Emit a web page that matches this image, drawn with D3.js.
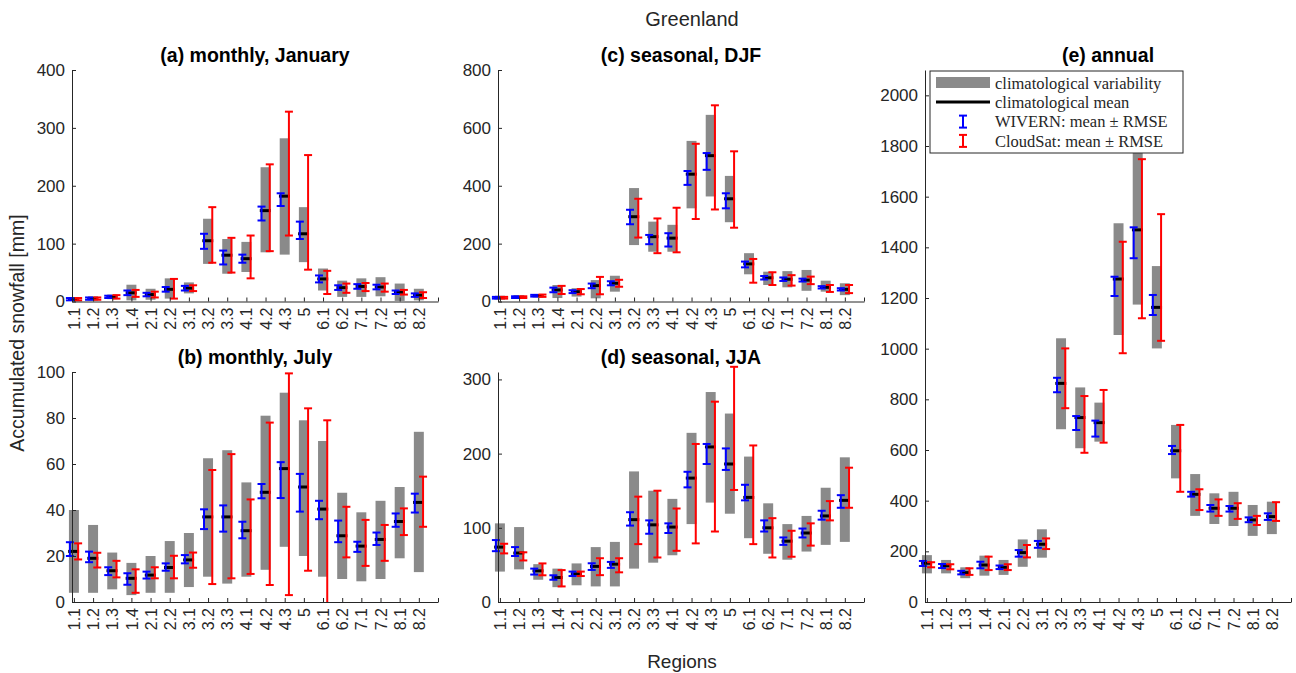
<!DOCTYPE html>
<html>
<head>
<meta charset="utf-8">
<script src="https://cdn.jsdelivr.net/npm/d3@7"></script>
<style>
  body { margin: 0; background: #fff; }
  svg text { font-family: "Liberation Sans", Arial, sans-serif; fill: #262626; }
</style>
</head>
<body>
<div id="root"></div>
<script>
const cats = ["1.1", "1.2", "1.3", "1.4", "2.1", "2.2", "3.1", "3.2", "3.3", "4.1",
  "4.2", "4.3", "5", "6.1", "6.2", "7.1", "7.2", "8.1", "8.2"];

// (a) monthly, January
const janLo = [1, 2, 4, 2, 3, 5, 14, 65, 48, 51, 85, 81, 68, 19, 8, 8, 9, 1, 2];
const janHi = [7, 9, 12, 29, 22, 40, 33, 143, 108, 103, 232, 282, 163, 57, 36, 40, 42, 31, 22];
const janMean = [4, 5, 8, 15, 12, 21, 23, 105, 80, 74, 157, 182, 117, 39, 24, 26, 25, 16, 11];
const janWiv = [4, 5, 8, 15, 12, 21, 23, 104, 76, 74, 152, 176, 123, 39, 24, 26, 25, 16, 11];
const janWivErr = [2, 2, 2, 4, 3, 4, 4, 13, 12, 7, 12, 11, 15, 6, 4, 4, 4, 3, 3];
const janCs = [4, 5, 8, 14, 12, 22, 23, 115, 80, 77, 162, 221, 154, 33, 23, 25, 24, 16, 11];
const janCsErr = [2, 2, 3, 6, 5, 17, 5, 48, 30, 37, 75, 107, 99, 20, 8, 7, 7, 4, 5];

// (b) monthly, July
const julLo = [4, 4, 5.5, 3, 4, 4, 6.5, 11, 8, 11, 14, 24, 20, 11, 10, 9, 10, 19, 13];
const julHi = [40, 33.5, 21.5, 17, 20, 26.5, 30, 62.5, 66, 52, 81, 91, 79, 70, 47.5, 39, 44, 50, 74];
const julMean = [22, 19, 13.6, 10.3, 11.7, 15, 18.3, 37, 37, 31, 47.7, 58, 50, 40.4, 28.8, 24.3, 27.2, 35, 43.3];
const julWiv = [23, 19.6, 13.4, 10, 11.7, 15.2, 18.6, 36, 36.3, 31.3, 48.2, 53, 47.5, 40, 30.7, 24, 27.5, 35.6, 43];
const julWivErr = [3, 2.3, 1.7, 2.5, 1.5, 1.6, 1.8, 4.3, 5.7, 3.6, 3.1, 7.8, 8.2, 4, 4.7, 2.2, 2.7, 2.9, 4.1];
const julCs = [22, 18.2, 14.3, 9.1, 12.7, 15.2, 18.2, 32.6, 37.3, 28.4, 42.7, 51.2, 48.9, 39.5, 30.4, 25.7, 25.7, 34.9, 43.6];
const julCsErr = [3.5, 3.2, 3.6, 5.1, 2.4, 4.9, 3.3, 24.8, 27, 16.2, 35.3, 48.2, 35.3, 39.5, 11, 10, 7.8, 5.8, 10.9];

// (c) seasonal, DJF
const djfLo = [8, 10, 15, 12, 17, 11, 34, 195, 172, 172, 322, 363, 274, 94, 57, 49, 37, 34, 22];
const djfHi = [20, 20, 26, 57, 46, 74, 89, 392, 276, 265, 555, 645, 434, 167, 103, 105, 109, 72, 63];
const djfMean = [13, 15, 20, 40, 34, 55, 63, 293, 224, 219, 440, 504, 355, 130, 82, 77, 74, 49, 42];
const djfWiv = [13, 15, 20, 40, 34, 54, 63, 292, 214, 213, 427, 484, 348, 128, 82, 77, 74, 49, 42];
const djfWivErr = [3, 3, 3, 8, 5, 8, 7, 25, 16, 23, 24, 29, 26, 10, 6, 6, 5, 4, 4];
const djfCs = [13, 15, 20, 40, 34, 55, 63, 288, 227, 247, 415, 498, 387, 106, 79, 73, 73, 45, 43];
const djfCsErr = [3, 3, 4, 14, 9, 30, 12, 67, 60, 77, 130, 180, 132, 41, 22, 18, 13, 12, 14];

// (d) seasonal, JJA
const jjaLo = [41, 44, 30, 20, 22.5, 21, 21, 45, 53, 63, 105, 134, 119, 86, 65, 57, 68, 77, 81];
const jjaHi = [106, 101, 51, 45, 52, 74, 81, 176, 150, 139, 228, 283, 254, 196, 133, 105, 116, 154, 195];
const jjaMean = [74, 66, 42, 33, 38, 48, 51, 111, 104, 101, 167, 209, 186, 141, 100, 82, 93, 116, 137];
const jjaWiv = [76, 68, 41, 33, 38, 47.7, 50, 112, 101, 99.5, 165, 199.5, 192.5, 147.5, 102.5, 82, 93, 117, 135.5];
const jjaWivErr = [7.5, 6, 4, 3, 3, 4.5, 4, 9, 9, 6.5, 10.5, 13.5, 14.5, 10.5, 7.5, 5, 6, 6, 8.5];
const jjaCs = [72, 61.5, 44, 32, 38, 47.6, 49.5, 110, 105, 97.5, 146, 182.5, 234, 144.5, 86.5, 78.5, 91, 123, 154];
const jjaCsErr = [6.5, 5.5, 8, 11, 3, 11.4, 9.5, 32, 45, 28.5, 67, 87.5, 83, 66.5, 26.5, 17.5, 15, 13, 27];

// (e) annual
const annLo = [113, 113, 94, 104, 107, 139, 175, 682, 607, 633, 1054, 1174, 1001, 488, 340, 308, 300, 261, 268];
const annHi = [185, 166, 137, 183, 166, 247, 287, 1041, 847, 787, 1495, 1850, 1326, 699, 505, 429, 435, 383, 396];
const annMean = [153, 143, 116, 146, 137, 195, 228, 863, 728, 708, 1275, 1469, 1163, 597, 425, 370, 370, 324, 337];
const annWiv = [152, 142, 116, 146, 137, 192, 227.5, 856.5, 706.5, 684.5, 1246, 1418, 1172.5, 600, 425.5, 370, 368, 324.5, 337];
const annWivErr = [10, 8, 7, 13, 7, 13, 13.5, 28.5, 27.5, 31.5, 38, 61, 39.5, 16, 9.5, 13, 11, 9.5, 13];
const annCs = [147, 139, 120, 152.5, 137.5, 200.5, 230, 883, 701, 733, 1202, 1434, 1281, 567, 404, 372.5, 359, 322, 357];
const annCsErr = [10, 10, 13, 26.5, 11.5, 24.5, 21, 118, 112, 104, 220, 314, 250, 132, 41, 32.5, 31, 18, 37];

const width = 1296;
const height = 673;
const panelW = 366;
const gray = "#8a8a8a";
const blue = "#0000ff";
const red = "#ff0000";

const panels = [
  { title: "(a) monthly, January", left: 72, top: 70, bottom: 301.5, max: 400, step: 100,
    lo: janLo, hi: janHi, mean: janMean, wiv: janWiv, wivErr: janWivErr, cs: janCs, csErr: janCsErr },
  { title: "(b) monthly, July", left: 72, top: 372, bottom: 602, max: 100, step: 20,
    lo: julLo, hi: julHi, mean: julMean, wiv: julWiv, wivErr: julWivErr, cs: julCs, csErr: julCsErr },
  { title: "(c) seasonal, DJF", left: 498, top: 70, bottom: 301.5, max: 800, step: 200,
    lo: djfLo, hi: djfHi, mean: djfMean, wiv: djfWiv, wivErr: djfWivErr, cs: djfCs, csErr: djfCsErr },
  { title: "(d) seasonal, JJA", left: 498, top: 372, bottom: 602, max: 310, step: 100,
    lo: jjaLo, hi: jjaHi, mean: jjaMean, wiv: jjaWiv, wivErr: jjaWivErr, cs: jjaCs, csErr: jjaCsErr },
  { title: "(e) annual", left: 925, top: 70, bottom: 602, max: 2100, step: 200,
    lo: annLo, hi: annHi, mean: annMean, wiv: annWiv, wivErr: annWivErr, cs: annCs, csErr: annCsErr }
];

const svg = d3
  .select("#root")
  .append("svg")
  .attr("width", width)
  .attr("height", height);

// one error bar series (vertical line + caps)
const errorBars = (g, xScale, yScale, means, errs, shift, color) => {
  const eb = g.append("g").attr("stroke", color).attr("stroke-width", 2).attr("fill", "none");
  means.forEach((m, i) => {
    const cx = xScale(i + 1 + shift);
    const y1 = yScale(Math.max(m - errs[i], 0));
    const y2 = yScale(m + errs[i]);
    eb.append("line").attr("x1", cx).attr("x2", cx).attr("y1", y1).attr("y2", y2);
    // bottom cap only when it is inside the axes
    if (m - errs[i] > 0) {
      eb.append("line").attr("x1", cx - 4).attr("x2", cx + 4).attr("y1", y1).attr("y2", y1);
    }
    eb.append("line").attr("x1", cx - 4).attr("x2", cx + 4).attr("y1", y2).attr("y2", y2);
  });
};

const drawPanel = (p) => {
  const g = svg.append("g").attr("transform", `translate(${p.left},0)`);

  const x = d3.scaleLinear().domain([0.9, 20]).range([0, panelW]);
  const y = d3.scaleLinear().domain([0, p.max]).range([p.bottom, p.top]);

  // climatological variability
  g.append("g")
    .selectAll("rect")
    .data(cats)
    .enter()
    .append("rect")
    .attr("x", (d, i) => x(i + 1 - 0.26))
    .attr("width", x(1.26) - x(0.74))
    .attr("y", (d, i) => y(p.hi[i]))
    .attr("height", (d, i) => y(p.lo[i]) - y(p.hi[i]))
    .attr("fill", gray);

  // climatological mean
  g.append("g")
    .selectAll("line")
    .data(cats)
    .enter()
    .append("line")
    .attr("x1", (d, i) => x(i + 1 - 0.3))
    .attr("x2", (d, i) => x(i + 1 + 0.27))
    .attr("y1", (d, i) => y(p.mean[i]))
    .attr("y2", (d, i) => y(p.mean[i]))
    .attr("stroke", "#000")
    .attr("stroke-width", 3);

  errorBars(g, x, y, p.wiv, p.wivErr, -0.21, blue);
  errorBars(g, x, y, p.cs, p.csErr, 0.22, red);

  const yAxis = d3
    .axisLeft(y)
    .tickValues(d3.range(0, p.max + 1, p.step))
    .tickFormat(d3.format("d"))
    .tickSizeInner(-4)
    .tickSizeOuter(0)
    .tickPadding(7);
  const ya = g.append("g").call(yAxis);
  ya.selectAll("text").style("font-size", "17px");

  const xAxis = d3
    .axisBottom(x)
    .tickValues(d3.range(1, 21))
    .tickFormat((d) => (d <= cats.length ? cats[d - 1] : ""))
    .tickSizeInner(-4)
    .tickSizeOuter(0);
  const xa = g.append("g").attr("transform", `translate(0,${p.bottom})`).call(xAxis);
  xa.selectAll("text")
    .style("font-size", "16px")
    .style("text-anchor", "end")
    .attr("x", -6)
    .attr("y", 0)
    .attr("dy", "0.35em")
    .attr("transform", "rotate(-90)");

  g.selectAll(".domain, .tick line").attr("stroke", "#262626");

  g.append("text")
    .attr("x", panelW / 2)
    .attr("y", p.top - 8)
    .attr("text-anchor", "middle")
    .style("font-size", "19.5px")
    .style("font-weight", "bold")
    .style("fill", "#000")
    .text(p.title);

  return { g, x, y };
};

const drawn = panels.map(drawPanel);

// legend in panel (e)
const lg = svg.append("g").attr("transform", "translate(930,71)");
lg.append("rect")
  .attr("width", 253)
  .attr("height", 82)
  .attr("fill", "#fff")
  .attr("stroke", "#262626")
  .attr("stroke-width", 1);
const legendItems = [
  "climatological variability",
  "climatological mean",
  "WIVERN: mean \u00b1 RMSE",
  "CloudSat: mean \u00b1 RMSE"
];
lg.selectAll("text.leg")
  .data(legendItems)
  .enter()
  .append("text")
  .attr("class", "leg")
  .attr("x", 65)
  .attr("y", (d, i) => 12 + i * 19.3)
  .attr("dy", "0.35em")
  .style("font-family", "'Liberation Serif', 'Times New Roman', serif")
  .style("font-size", "16.5px")
  .text((d) => d);
lg.append("rect").attr("x", 6).attr("y", 6).attr("width", 54).attr("height", 11).attr("fill", gray);
lg.append("line").attr("x1", 6).attr("x2", 60).attr("y1", 31).attr("y2", 31)
  .attr("stroke", "#000").attr("stroke-width", 3);
[[blue, 50.6], [red, 69.9]].forEach(([c, cy]) => {
  const s = lg.append("g").attr("stroke", c).attr("stroke-width", 2);
  s.append("line").attr("x1", 33).attr("x2", 33).attr("y1", cy - 6).attr("y2", cy + 6);
  s.append("line").attr("x1", 29).attr("x2", 37).attr("y1", cy - 6).attr("y2", cy - 6);
  s.append("line").attr("x1", 29).attr("x2", 37).attr("y1", cy + 6).attr("y2", cy + 6);
});

// figure labels
svg.append("text")
  .attr("x", 692)
  .attr("y", 26)
  .attr("text-anchor", "middle")
  .style("font-size", "20px")
  .text("Greenland");

svg.append("text")
  .attr("x", 682)
  .attr("y", 668)
  .attr("text-anchor", "middle")
  .style("font-size", "19px")
  .text("Regions");

svg.append("text")
  .attr("transform", "translate(24,333) rotate(-90)")
  .attr("text-anchor", "middle")
  .style("font-size", "19.5px")
  .text("Accumulated snowfall [mm]");
</script>
</body>
</html>
